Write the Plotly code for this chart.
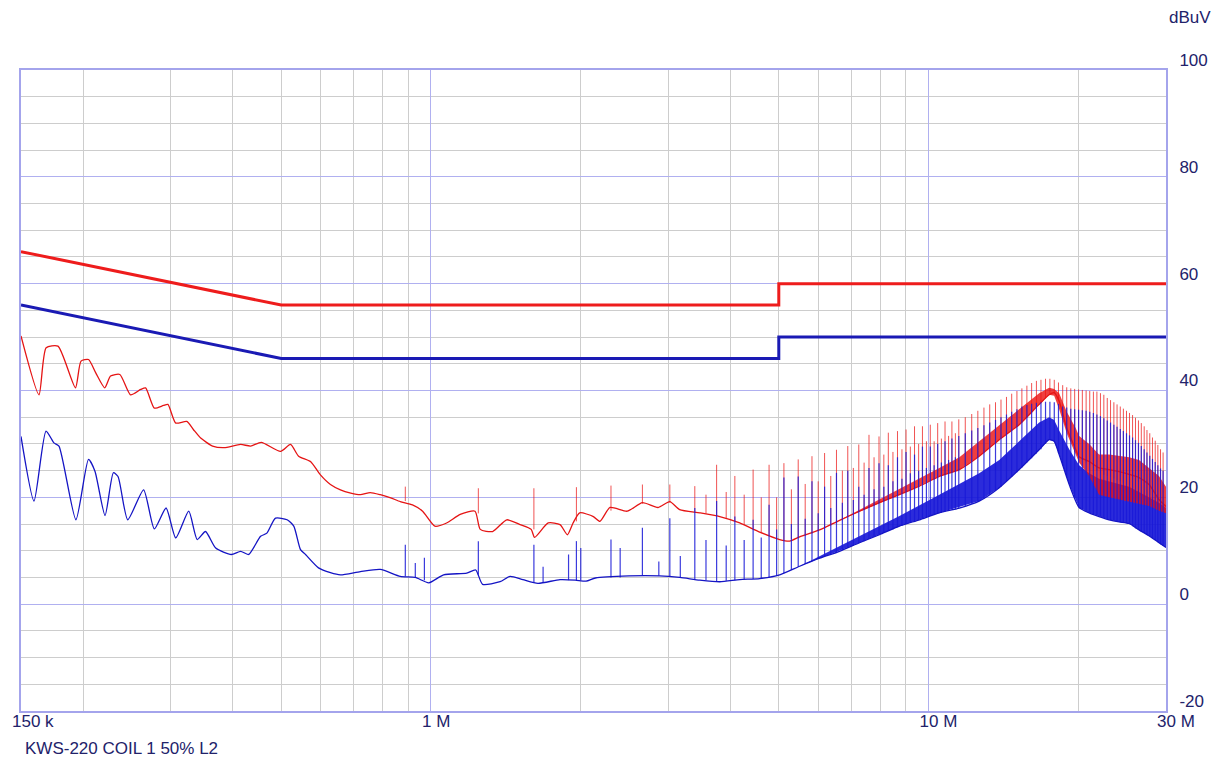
import plotly.graph_objects as go

# ---------------- axis / tick data ----------------
x_tick_vals = [0.15, 1, 10, 30]
x_tick_text = ["150 k", "1 M", "10 M", "30 M"]
x_minor_vals = [0.2, 0.3, 0.4, 0.5, 0.6, 0.7, 0.8, 0.9, 2, 3, 4, 5, 6, 7, 8, 9, 20]
y_tick_vals = [-20, 0, 20, 40, 60, 80, 100]
y_tick_text = ["-20", "0", "20", "40", "60", "80", "100"]

# ---------------- limit lines (MHz, dBuV) ----------------
qp_limit_f = [0.15, 0.5, 5, 5, 30]
qp_limit_db = [66, 56, 56, 60, 60]
av_limit_f = [0.15, 0.5, 5, 5, 30]
av_limit_db = [56, 46, 46, 50, 50]

# ---------------- red measured trace (floor) ----------------
red_f = [0.150, 0.1630, 0.1685, 0.1780, 0.1930, 0.1980, 0.2050, 0.2120, 0.2210, 0.2270,
         0.2370, 0.2490, 0.2610, 0.2670, 0.2780, 0.2900, 0.2960, 0.3070, 0.3230, 0.3330,
         0.3445, 0.3640, 0.3840, 0.4144, 0.4340, 0.4560, 0.4985, 0.5221, 0.5420, 0.5726,
         0.5996, 0.628, 0.6577, 0.690, 0.7213, 0.755, 0.791, 0.830, 0.8675, 0.918,
         0.962, 1.018, 1.075, 1.145, 1.226, 1.256, 1.33, 1.42, 1.51, 1.59,
         1.615, 1.72, 1.817, 1.88, 1.93, 1.99, 2.12, 2.185, 2.29, 2.48,
         2.66, 2.86, 3.02, 3.16, 3.469, 3.805, 4.173, 4.577, 5.020, 5.258,
         5.507, 6.039, 6.624, 7.265, 7.967, 8.738, 9.584, 10.51, 11.53, 12.64,
         13.87, 15.21, 16.68, 17.47, 17.88, 18.30, 18.95, 19.75, 20.07, 21.02,
         22.01, 23.06, 24.15, 25.29, 26.48, 27.73, 29.04, 30.0]
red_db = [50.2, 39.2, 48.0, 48.3, 40.5, 45.5, 45.8, 43.3, 40.5, 42.7,
          43.0, 39.2, 40.2, 40.5, 36.7, 37.2, 37.4, 33.9, 34.2, 32.7,
          31.1, 29.6, 29.3, 29.9, 29.6, 30.3, 28.6, 29.9, 27.7, 26.7,
          24.2, 22.4, 21.4, 20.8, 20.5, 20.9, 20.5, 19.9, 19.2, 18.6,
          17.4, 14.6, 15.2, 16.8, 17.4, 14.0, 13.6, 15.8, 14.9, 14.0,
          12.5, 15.2, 14.9, 13.0, 15.2, 17.1, 16.4, 15.5, 18.1, 17.4,
          19.0, 18.1, 19.2, 17.7, 17.1, 16.4, 15.2, 13.5, 12.1, 11.8,
          12.6, 13.9, 15.7, 17.4, 19.0, 20.5, 22.1, 23.9, 25.2, 27.7,
          30.8, 33.6, 37.4, 39.2, 39.6, 38.0, 33.0, 29.0, 27.6, 26.7,
          25.5, 25.2, 24.8, 24.3, 23.7, 22.4, 19.6, 18.3]

# ---------------- blue measured trace (floor) ----------------
blue_f = [0.150, 0.1593, 0.1684, 0.1747, 0.1788, 0.1934, 0.2050, 0.2112, 0.2213, 0.2300,
          0.2350, 0.2458, 0.2645, 0.2780, 0.2935, 0.3070, 0.3260, 0.3390, 0.3522, 0.3693,
          0.3970, 0.4144, 0.4300, 0.4546, 0.4680, 0.4871, 0.5140, 0.5300, 0.5468, 0.5596,
          0.5942, 0.6280, 0.6577, 0.7213, 0.7910, 0.8675, 0.930, 0.990, 1.060, 1.180,
          1.230, 1.270, 1.377, 1.442, 1.530, 1.640, 1.817, 1.95, 2.05, 2.14,
          2.50, 2.88, 3.163, 3.469, 3.805, 4.173, 4.577, 5.020, 5.507, 6.039,
          6.624, 7.265, 7.967, 8.738, 9.584, 10.51, 11.53, 12.64, 13.87, 15.21,
          16.68, 17.47, 17.88, 18.30, 19.17, 20.07, 21.02, 22.01, 23.06, 24.15,
          25.29, 26.48, 27.73, 29.04, 30.0]
blue_db = [31.4, 19.3, 32.4, 30.2, 29.6, 15.8, 27.1, 24.9, 16.6, 24.6,
           23.9, 15.8, 21.4, 14.1, 18.0, 12.4, 17.4, 12.1, 13.6, 10.5,
           9.3, 9.9, 9.3, 12.7, 13.3, 16.1, 15.8, 14.6, 10.2, 9.3,
           6.8, 5.9, 5.5, 6.1, 6.5, 5.2, 5.0, 4.0, 5.5, 5.8,
           6.4, 3.7, 4.2, 5.2, 4.6, 3.9, 4.6, 4.5, 4.3, 4.9,
           5.3, 5.3, 5.0, 4.5, 4.2, 4.6, 4.8, 5.5, 7.1, 8.6,
           9.9, 11.5, 13.0, 14.6, 15.8, 17.1, 18.0, 19.3, 21.8, 25.2,
           28.9, 30.8, 30.5, 28.0, 22.4, 18.1, 17.1, 16.4, 15.8, 15.4,
           15.1, 13.9, 12.8, 11.5, 10.6]

# ---------------- main harmonic spikes (MHz) ----------------
spike_f = [1.245, 1.61, 1.96, 2.30, 2.66, 3.02, 3.39, 3.75, 4.08, 4.44,
           4.78, 5.12, 5.47, 5.83, 6.18, 6.53, 6.88, 7.24, 7.59, 7.95,
           8.30, 8.66, 9.01, 9.37, 9.72, 10.08, 10.43, 10.79, 11.14, 11.50,
           11.85, 12.21, 12.56, 12.92, 13.27, 13.63, 13.98, 14.34, 14.69, 15.05,
           15.40, 15.76, 16.11, 16.47, 16.82, 17.18, 17.53, 17.89, 18.24, 18.60,
           18.95, 19.31, 19.66, 20.02, 20.37, 20.73, 21.08, 21.44, 21.79, 22.15,
           22.50, 22.86, 23.21, 23.57, 23.92, 24.28, 24.63, 24.99, 25.34, 25.70,
           26.05, 26.41, 26.76, 27.12, 27.47, 27.83, 28.18, 28.54, 28.89, 29.25,
           29.60]
red_spike_foot = [17.0, 14.0, 15.5, 17.5, 18.8, 19.0, 17.3, 16.6, 15.5, 14.2,
                  12.9, 12.0, 12.4, 13.2, 14.2, 15.2, 16.3, 17.3, 18.1, 19.0,
                  19.7, 20.4, 21.1, 21.7, 22.3, 23.0, 23.7, 24.2, 24.7, 25.2,
                  26.0, 26.8, 27.5, 28.4, 29.3, 30.2, 31.0, 31.8, 32.5, 33.2,
                  34.0, 34.9, 35.9, 36.8, 37.7, 38.5, 39.2, 39.5, 38.2, 35.5,
                  33.0, 30.5, 28.5, 27.5, 27.0, 26.5, 26.0, 25.5, 25.0, 24.5,
                  24.2, 24.0, 23.8, 23.5, 23.2, 23.0, 22.7, 22.4, 22.0, 21.8,
                  21.5, 21.0, 20.7, 20.3, 20.0, 19.5, 19.0, 18.7, 18.2, 17.8,
                  17.4]
red_spike_top = [21.7, 21.7, 21.9, 22.2, 22.4, 22.4, 22.1, 26.1, 24.0, 25.2,
                 26.1, 26.4, 27.1, 27.7, 28.3, 28.9, 29.6, 29.9, 31.7, 31.4,
                 32.1, 32.4, 32.7, 33.3, 33.3, 33.6, 33.9, 34.2, 34.2, 34.6,
                 35.0, 35.6, 36.2, 36.8, 37.4, 37.8, 38.3, 38.8, 39.4, 39.9,
                 40.4, 40.9, 41.4, 41.8, 42.0, 42.2, 42.2, 42.0, 41.5, 41.0,
                 40.6, 40.4, 40.3, 40.2, 40.1, 40.0, 39.9, 39.8, 39.8, 39.5,
                 39.2, 38.6, 38.2, 37.8, 37.4, 37.0, 36.6, 36.2, 35.8, 35.4,
                 34.9, 34.4, 33.9, 33.3, 32.6, 32.0, 31.2, 30.6, 29.8, 29.0,
                 28.4]
blue_spike_foot = [5.5, 4.0, 4.5, 5.0, 5.3, 5.2, 4.6, 4.3, 4.5, 4.7,
                   5.0, 5.8, 7.0, 8.1, 8.9, 9.7, 10.5, 11.4, 12.2, 13.0,
                   13.7, 14.4, 15.0, 15.5, 16.0, 16.5, 17.0, 17.3, 17.7, 18.0,
                   18.4, 18.8, 19.2, 19.8, 20.5, 21.3, 22.0, 23.0, 23.8, 24.7,
                   25.6, 26.5, 27.3, 28.2, 29.0, 30.0, 30.8, 30.5, 28.3, 26.0,
                   24.0, 22.2, 20.0, 18.2, 17.8, 17.5, 17.2, 16.9, 16.6, 16.4,
                   16.2, 16.0, 15.8, 15.7, 15.5, 15.4, 15.3, 15.2, 15.0, 14.6,
                   14.2, 13.9, 13.6, 13.3, 13.0, 12.7, 12.3, 12.0, 11.6, 11.2,
                   10.9]
blue_spike_top = [11.8, 11.1, 11.8, 12.1, 14.3, 16.1, 18.0, 19.3, 16.4, 15.8,
                  18.6, 23.7, 23.9, 23.0, 22.0, 24.6, 25.0, 22.0, 25.5, 26.4,
                  26.0, 27.5, 28.5, 28.0, 29.5, 29.5, 30.0, 30.5, 31.0, 31.5,
                  32.0, 32.5, 33.0, 33.5, 34.0, 34.5, 35.0, 35.5, 36.0, 36.5,
                  37.0, 37.3, 37.5, 37.7, 37.8, 37.9, 37.9, 37.8, 37.5, 37.0,
                  36.8, 36.6, 36.5, 36.4, 36.3, 36.2, 36.0, 35.8, 35.5, 35.2,
                  34.8, 34.4, 34.0, 33.6, 33.2, 32.8, 32.4, 32.0, 31.6, 31.2,
                  30.7, 30.2, 29.6, 29.0, 28.4, 27.8, 27.2, 26.6, 26.0, 25.4,
                  25.0]

# ---------------- secondary (in-between) spikes (MHz) ----------------
mid_f = [3.57, 3.92, 4.26, 4.61, 4.95, 5.30, 5.65, 6.00, 6.36, 6.71,
         7.06, 7.42, 7.77, 8.13, 8.48, 8.84, 9.19, 9.55, 9.90, 10.26,
         10.61, 10.97, 11.32]
red_mid_foot = [17.0, 16.0, 14.8, 13.5, 12.4, 12.2, 12.8, 13.7, 14.7, 15.7,
                16.8, 17.7, 18.5, 19.3, 20.0, 20.7, 21.4, 22.0, 22.6, 23.3,
                23.9, 24.4, 25.0]
red_mid_top = [20.5, 21.0, 20.5, 20.0, 20.0, 21.5, 22.5, 23.0, 24.0, 25.0,
               25.5, 26.5, 27.5, 28.0, 28.5, 29.0, 29.5, 30.0, 30.5, 30.5,
               31.0, 31.5, 32.0]
blue_mid_foot = [4.5, 4.4, 4.6, 4.8, 5.3, 6.4, 7.5, 8.5, 9.3, 10.1,
                 11.0, 11.8, 12.6, 13.3, 14.0, 14.7, 15.2, 15.7, 16.2, 16.7,
                 17.1, 17.5, 17.8]
blue_mid_top = [12.0, 11.0, 12.0, 12.5, 14.0, 15.0, 16.0, 17.0, 18.0, 19.0,
                19.5, 20.5, 21.5, 22.0, 23.0, 23.5, 24.5, 25.0, 25.5, 26.0,
                26.5, 27.0, 27.5]

# smaller isolated spikes below 3.2 MHz
red_extra_f = [0.888]
red_extra_foot = [19.3]
red_extra_top = [22.0]
blue_extra_f = [0.888, 0.93, 0.97, 1.68, 1.89, 2.00, 2.40, 2.87, 3.17]
blue_extra_foot = [5.2, 5.0, 4.5, 4.0, 4.5, 4.5, 5.0, 5.3, 5.0]
blue_extra_top = [11.1, 7.7, 8.7, 7.0, 9.3, 10.5, 10.5, 8.0, 9.0]

# ---------------- dense-region bands (MHz, dBuV) ----------------
red_band_f = [6.624, 8.738, 10.51, 11.53, 12.64, 13.87, 15.21, 16.68, 17.47, 17.88,
              18.30, 18.95, 19.75, 20.07, 21.02, 22.01, 23.06, 24.15, 25.29, 26.48,
              27.73, 29.04, 30.0]
red_band_lo = [15.7, 20.5, 23.9, 25.2, 27.7, 30.8, 33.6, 37.4, 39.2, 39.0,
               36.5, 32.0, 28.0, 26.5, 24.0, 20.5, 20.0, 19.6, 19.2, 18.8,
               18.4, 17.5, 17.0]
red_band_hi = [15.7, 21.5, 25.5, 27.5, 30.5, 33.5, 36.5, 39.5, 40.5, 40.3,
               39.5, 36.0, 33.0, 31.5, 30.0, 28.0, 28.0, 27.8, 27.5, 27.0,
               25.5, 24.0, 22.0]
blue_band_f = [5.507, 7.265, 8.738, 10.51, 12.64, 13.87, 15.21, 16.68, 17.47, 17.88,
               18.30, 19.17, 20.07, 21.02, 22.01, 23.06, 24.15, 25.29, 26.48, 27.73,
               29.04, 30.0]
blue_band_lo = [7.1, 11.5, 14.6, 17.1, 19.3, 21.8, 25.2, 28.9, 30.8, 30.5,
                28.0, 22.4, 18.1, 17.1, 16.4, 15.8, 15.4, 15.1, 13.9, 12.8,
                11.5, 10.6]
blue_band_hi = [7.1, 12.8, 16.5, 20.5, 24.5, 27.0, 30.5, 34.0, 35.0, 34.5,
                32.5, 29.0, 26.0, 24.5, 23.5, 23.0, 22.5, 22.0, 21.0, 20.0,
                19.0, 18.0]

RED = "#e51414"
BLUE = "#1414c4"
NAVY = "#22226a"


def segments(fs, lo, hi):
    xs, ys = [], []
    for f, a, b in zip(fs, lo, hi):
        xs += [f, f, None]
        ys += [a, b, None]
    return xs, ys


fig = go.Figure()


def band(fs, lo, hi, color):
    fig.add_trace(go.Scatter(x=fs, y=lo, mode="lines", line=dict(width=0, color=color),
                             hoverinfo="skip", showlegend=False))
    fig.add_trace(go.Scatter(x=fs, y=hi, mode="lines", line=dict(width=0, color=color),
                             fill="tonexty", fillcolor=color, hoverinfo="skip", showlegend=False))


# red spikes
sx, sy = segments(spike_f + mid_f + red_extra_f,
                  red_spike_foot + red_mid_foot + red_extra_foot,
                  red_spike_top + red_mid_top + red_extra_top)
fig.add_trace(go.Scatter(x=sx, y=sy, mode="lines", line=dict(color="rgba(235,25,25,0.75)", width=1),
                         hoverinfo="skip", showlegend=False))
# blue band, red band
band(blue_band_f, blue_band_lo, blue_band_hi, "rgba(20,20,215,0.9)")
band(red_band_f, red_band_lo, red_band_hi, "rgba(235,20,20,0.82)")
# red floor
fig.add_trace(go.Scatter(x=red_f, y=red_db, mode="lines",
                         line=dict(color=RED, width=1.3, shape="spline", smoothing=0.6),
                         hoverinfo="skip", showlegend=False))
# blue spikes
sx, sy = segments(spike_f + mid_f + blue_extra_f,
                  blue_spike_foot + blue_mid_foot + blue_extra_foot,
                  blue_spike_top + blue_mid_top + blue_extra_top)
fig.add_trace(go.Scatter(x=sx, y=sy, mode="lines", line=dict(color="rgba(25,25,215,0.85)", width=1.2),
                         hoverinfo="skip", showlegend=False))
# blue floor
fig.add_trace(go.Scatter(x=blue_f, y=blue_db, mode="lines",
                         line=dict(color=BLUE, width=1.3, shape="spline", smoothing=0.6),
                         hoverinfo="skip", showlegend=False))
# limit lines
fig.add_trace(go.Scatter(x=qp_limit_f, y=qp_limit_db, mode="lines", line=dict(color="#ee1c1c", width=3),
                         hoverinfo="skip", showlegend=False))
fig.add_trace(go.Scatter(x=av_limit_f, y=av_limit_db, mode="lines", line=dict(color="#1a1ab4", width=3),
                         hoverinfo="skip", showlegend=False))

FONT = "Liberation Sans, Arial, sans-serif"

fig.update_layout(
    width=1220, height=766,
    margin=dict(l=20, r=53, t=70, b=55),
    paper_bgcolor="#ffffff",
    plot_bgcolor="#ffffff",
    font=dict(family=FONT, size=17, color=NAVY),
    showlegend=False,
    xaxis=dict(
        type="log",
        range=[-0.82391, 1.47712],
        tickmode="array", tickvals=x_tick_vals, ticktext=x_tick_text,
        ticks="", showgrid=True, gridcolor="#b0b0f0", gridwidth=1,
        minor=dict(tickmode="array", tickvals=x_minor_vals, showgrid=True,
                   gridcolor="#cdcdcd", gridwidth=1, ticks=""),
        showline=True, linecolor="#a4a4ec", linewidth=2, mirror=True,
        zeroline=False,
        ticklabelposition="outside right", ticklabelshift=-10, ticklabelstandoff=-6,
        tickfont=dict(family=FONT, size=17, color=NAVY),
    ),
    yaxis=dict(
        side="right",
        range=[-20, 100],
        tickmode="array", tickvals=y_tick_vals, ticktext=y_tick_text,
        ticks="", showgrid=True, gridcolor="#b0b0f0", gridwidth=1,
        minor=dict(tickmode="linear", tick0=0, dtick=5, showgrid=True,
                   gridcolor="#cdcdcd", gridwidth=1, ticks=""),
        showline=True, linecolor="#a4a4ec", linewidth=2, mirror=True,
        zeroline=False,
        ticklabelshift=-10, ticklabelstandoff=8,
        tickfont=dict(family=FONT, size=17, color=NAVY),
    ),
    annotations=[
        dict(text="dBuV", xref="paper", yref="paper", x=1.0009, y=1.082,
             xanchor="left", yanchor="middle", showarrow=False,
             font=dict(family=FONT, size=17, color=NAVY)),
        dict(text="KWS-220 COIL 1 50% L2", xref="paper", yref="paper", x=0.0017, y=-0.058,
             xanchor="left", yanchor="middle", showarrow=False,
             font=dict(family=FONT, size=17, color=NAVY)),
    ],
)

fig.write_html("out.html")
